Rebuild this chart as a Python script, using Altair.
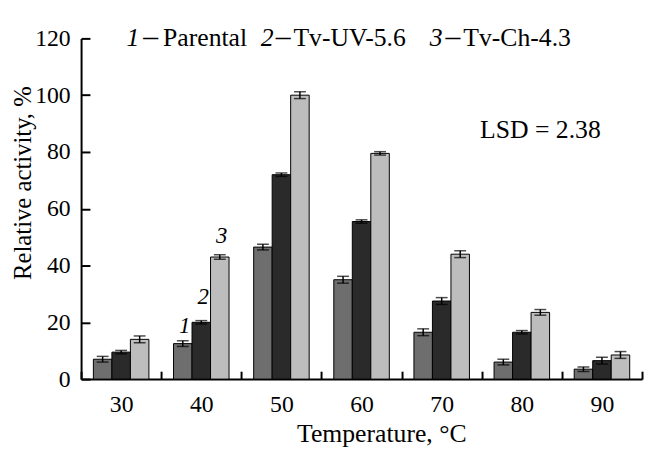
import altair as alt
import pandas as pd

temps = ["30", "40", "50", "60", "70", "80", "90"]
series_names = ["Parental", "Tv-UV-5.6", "Tv-Ch-4.3"]
parental = [7, 12.5, 46.5, 35, 16.5, 6, 3.5]
uv = [9.5, 20, 72, 55.5, 27.5, 16.5, 6.5]
ch = [14, 43, 100, 79.5, 44, 23.5, 8.5]
parental_err = [1.0, 1.0, 1.0, 1.2, 1.2, 1.0, 0.8]
uv_err = [0.6, 0.6, 0.6, 0.6, 1.2, 0.6, 1.2]
ch_err = [1.2, 0.8, 1.2, 0.6, 1.2, 1.0, 1.2]
bar_colors = ["#6e6e6e", "#2a2a2a", "#bdbdbd"]

rows = []
for name, vals, errs in [("Parental", parental, parental_err),
                         ("Tv-UV-5.6", uv, uv_err),
                         ("Tv-Ch-4.3", ch, ch_err)]:
    for t, v, e in zip(temps, vals, errs):
        rows.append({"temp": t, "series": name, "value": v,
                     "lo": v - e, "hi": v + e})
df = pd.DataFrame(rows)

# numeral labels above the 40 °C group
num_labels = ["1", "2", "3"]
num_label_y = [16.3, 26.4, 48]
num_df = pd.DataFrame({"temp": ["40"] * 3, "series": series_names,
                       "label": num_labels, "ypos": num_label_y})

FONT = "Liberation Serif"

x_enc = alt.X("temp:N", sort=temps,
              scale=alt.Scale(paddingInner=0, paddingOuter=0),
              axis=alt.Axis(title="Temperature, °C", labelAngle=0,
                            tickBand="extent", tickSize={"expr": "-8"},
                            tickWidth=2, domainWidth=2, domainColor="black",
                            tickColor="black", labelPadding=22,
                            labelFontSize=24, labelFont=FONT, labelColor="black",
                            titleFontSize=26, titleFont=FONT, titleFontWeight="normal",
                            titleColor="black", titleX=304, titleY=63,
                            titleBaseline="alphabetic", titleAlign="center"))
xoff = alt.XOffset("series:N", sort=series_names,
                   scale=alt.Scale(domain=series_names, paddingInner=0, paddingOuter=0.665))
y_scale = alt.Scale(domain=[0, 120], nice=False)

bars = alt.Chart(df).mark_bar(stroke="black", strokeWidth=1).encode(
    x=x_enc,
    xOffset=xoff,
    y=alt.Y("value:Q", scale=y_scale,
            axis=alt.Axis(title="Relative activity, %", values=[0, 20, 40, 60, 80, 100, 120],
                          grid=False, tickSize={"expr": "-9"}, tickWidth=2,
                          domainWidth=2, domainColor="black", tickColor="black",
                          labelPadding=20, labelFontSize=24, labelFont=FONT,
                          labelColor="black", titleFontSize=25, titleFont=FONT,
                          titleFontWeight="normal", titleColor="black",
                          titleX=-59, titleY=146, titleAngle=270,
                          titleBaseline="middle", titleAlign="center")),
    color=alt.Color("series:N", scale=alt.Scale(domain=series_names, range=bar_colors),
                    legend=None),
)

err_rule = alt.Chart(df).mark_rule(color="black", strokeWidth=1.5).encode(
    x=alt.X("temp:N", sort=temps), xOffset=xoff,
    y=alt.Y("lo:Q", scale=y_scale), y2="hi:Q")
cap_hi = alt.Chart(df).mark_tick(color="black", thickness=1.5, size=12).encode(
    x=alt.X("temp:N", sort=temps), xOffset=xoff, y=alt.Y("hi:Q", scale=y_scale))
cap_lo = alt.Chart(df).mark_tick(color="black", thickness=1.5, size=12).encode(
    x=alt.X("temp:N", sort=temps), xOffset=xoff, y=alt.Y("lo:Q", scale=y_scale))

nums = alt.Chart(num_df).mark_text(font=FONT, fontSize=23, fontStyle="italic",
                                   baseline="alphabetic", color="black", dx=2).encode(
    x=alt.X("temp:N", sort=temps), xOffset=xoff,
    y=alt.Y("ypos:Q", scale=y_scale), text="label:N")

# header legend pieces: italic numeral, dash, series name
leg_num_x = [46, 182, 353]
leg_dash_x = [63, 197, 369]
leg_txt_x = [83, 215, 387]
leg_nums = ["1", "2", "3"]
leg_txts = ["Parental", "Tv-UV-5.6", "Tv-Ch-4.3"]
one = pd.DataFrame({"k": [0]})

layers = [bars, err_rule, cap_hi, cap_lo, nums]
for nx, dxp, tx, n, t in zip(leg_num_x, leg_dash_x, leg_txt_x, leg_nums, leg_txts):
    layers.append(alt.Chart(one).mark_text(text=n, font=FONT, fontSize=26, fontStyle="italic",
                                           align="left", baseline="alphabetic",
                                           color="black").encode(
        x=alt.value(nx), y=alt.value(8)))
    layers.append(alt.Chart(one).mark_text(text="–", font=FONT, fontSize=30,
                                           align="left", baseline="alphabetic",
                                           color="black").encode(
        x=alt.value(dxp), y=alt.value(8)))
    layers.append(alt.Chart(one).mark_text(text=t, font=FONT, fontSize=26,
                                           align="left", baseline="alphabetic",
                                           color="black").encode(
        x=alt.value(tx), y=alt.value(8)))

lsd_text = "LSD = 2.38"
layers.append(alt.Chart(one).mark_text(text=lsd_text, font=FONT, fontSize=26,
                                       align="left", baseline="alphabetic",
                                       color="black").encode(
    x=alt.value(404), y=alt.value(101)))

chart = alt.layer(*layers).properties(
    width=568, height=345,
    autosize=alt.AutoSizeParams(type="none"),
    padding={"left": 74, "top": 28, "right": 2, "bottom": 68},
    background="white",
).configure_view(stroke=None)

chart.save("out.html", embed_options={"renderer": "svg", "actions": False})
